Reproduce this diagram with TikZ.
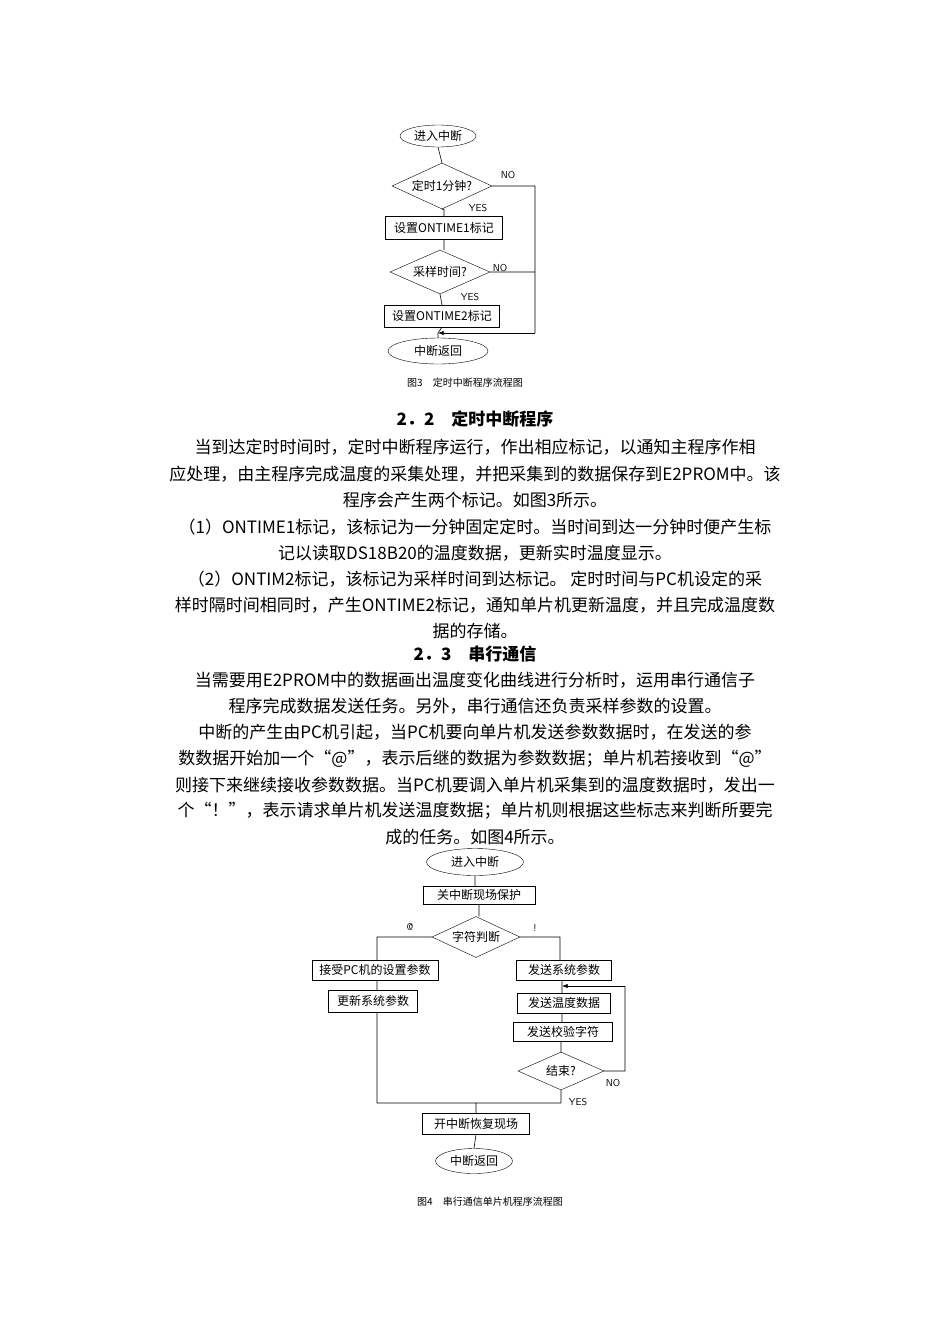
\documentclass[tikz,border=0pt]{standalone}
\usepackage{fontspec}
\setmainfont{Liberation Serif}
\newfontfamily\cjk{Noto Sans CJK SC}
\usetikzlibrary{arrows.meta,shapes.geometric,positioning}

\begin{document}
\begin{tikzpicture}[x=1pt,y=-1pt]
\tikzstyle{box} = [
	shape=rectangle,
	draw=black, %thin border
	inner sep=0pt,
	font=\cjk\fontsize{12}{14}\selectfont
];
\tikzstyle{decision} = [
	shape=diamond,
	draw=black,
	aspect=2.2,
	inner sep=0pt,
	font=\cjk\fontsize{12}{14}\selectfont
];
\tikzstyle{term} = [
	shape=ellipse,
	draw=black,
	inner sep=0pt,
	font=\cjk\fontsize{12}{14}\selectfont
];
\tikzstyle{lbl} = [font=\fontsize{10}{12}\selectfont\sffamily, inner sep=1pt];
\tikzstyle{txt} = [font=\cjk\fontsize{17}{20}\selectfont, inner sep=0pt];

\useasboundingbox (0,0) rectangle (950,1344);

%figure 3
\node[term, minimum width=76, minimum height=22](InA) at (438,136) {进入中断};
\node[decision, minimum width=100, minimum height=46](Min) at (442,186) {定时1分钟?};
\node[box, minimum width=117, minimum height=23](OnA) at (444,228) {设置ONTIME1标记};
\node[decision, minimum width=100, minimum height=44](Smp) at (440,272) {采样时间?};
\node[box, minimum width=115, minimum height=22](OnB) at (442,316) {设置ONTIME2标记};
\node[term, minimum width=100, minimum height=26](OutA) at (438,351) {中断返回};
\coordinate (JA) at (438,333);
\coordinate (RA) at (535,186);
\coordinate (RB) at (535,333);
\node[lbl] at (508,175) {NO};
\node[lbl] at (478,208) {YES};
\node[lbl] at (500,268) {NO};
\node[lbl] at (470,297) {YES};
\node[font=\cjk\fontsize{10}{12}\selectfont] at (465,383) {图3\quad 定时中断程序流程图};

\draw[line width=0.6pt]
	(InA.south) -- (Min.north)
	(Min.south) -- (OnA.north |- Min.south) -- (OnA.north)
	(OnA.south) -- (Smp.north -| OnA.south)
	(Smp.south) -- (OnB.north)
	(JA) -- (OutA.north)
	(Min.east) -- (RA) -- (RB)
	(Smp.east) -- (Smp.east -| RA)
;
\draw[line width=0.6pt, -{Latex[length=2mm,width=1.5mm]}] (RB) -- (JA);
\draw[line width=0.6pt] (OnB.south) -- (JA);

%text
\node[txt, font=\cjk\bfseries\fontsize{17}{20}\selectfont] (H1) at (475,419) {2．2\quad 定时中断程序};
\node[txt] (L1) at (475,447) {当到达定时时间时，定时中断程序运行，作出相应标记，以通知主程序作相};
\node[txt] (L2) at (475,474) {应处理，由主程序完成温度的采集处理，并把采集到的数据保存到E2PROM中。该};
\node[txt] (L3) at (475,500) {程序会产生两个标记。如图3所示。};
\node[txt] (L4) at (475,527) {（1）ONTIME1标记，该标记为一分钟固定定时。当时间到达一分钟时便产生标};
\node[txt] (L5) at (475,553) {记以读取DS18B20的温度数据，更新实时温度显示。};
\node[txt] (L6) at (475,579) {（2）ONTIM2标记，该标记为采样时间到达标记。 定时时间与PC机设定的采};
\node[txt] (L7) at (475,605) {样时隔时间相同时，产生ONTIME2标记，通知单片机更新温度，并且完成温度数};
\node[txt] (L8) at (475,631) {据的存储。};
\node[txt, font=\cjk\bfseries\fontsize{17}{20}\selectfont] (H2) at (475,654) {2．3\quad 串行通信};
\node[txt] (M1) at (475,680) {当需要用E2PROM中的数据画出温度变化曲线进行分析时，运用串行通信子};
\node[txt] (M2) at (475,706) {程序完成数据发送任务。另外，串行通信还负责采样参数的设置。};
\node[txt] (M3) at (475,732) {中断的产生由PC机引起，当PC机要向单片机发送参数数据时，在发送的参};
\node[txt] (M4) at (475,759) {数数据开始加一个“@”，表示后继的数据为参数数据；单片机若接收到“@”};
\node[txt] (M5) at (475,785) {则接下来继续接收参数数据。当PC机要调入单片机采集到的温度数据时，发出一};
\node[txt] (M6) at (475,811) {个“！”，表示请求单片机发送温度数据；单片机则根据这些标志来判断所要完};
\node[txt] (M7) at (475,837) {成的任务。如图4所示。};

%figure 4
\node[term, minimum width=97, minimum height=27](InB) at (475,862) {进入中断};
\node[box, minimum width=112, minimum height=18](Prot) at (479,895) {关中断现场保护};
\node[decision, minimum width=88, minimum height=41](Chr) at (476,937) {字符判断};
\node[box, minimum width=126, minimum height=20](Recv) at (375,970) {接受PC机的设置参数};
\node[box, minimum width=89, minimum height=22](Upd) at (373,1001) {更新系统参数};
\node[box, minimum width=95, minimum height=20](SSys) at (564,970) {发送系统参数};
\node[box, minimum width=93, minimum height=20](STmp) at (564,1003) {发送温度数据};
\node[box, minimum width=99, minimum height=19](SChk) at (563,1032) {发送校验字符};
\node[decision, minimum width=86, minimum height=38](End) at (561,1071) {结束?};
\node[box, minimum width=107, minimum height=21](Rest) at (476,1124) {开中断恢复现场};
\node[term, minimum width=77, minimum height=25](OutB) at (474,1161) {中断返回};
\coordinate (CL) at (377,937);
\coordinate (CR) at (560,937);
\coordinate (ML) at (377,1103);
\coordinate (MR) at (561,1103);
\coordinate (MC) at (476,1103);
\coordinate (LA) at (625,1071);
\coordinate (LB) at (625,986);
\coordinate (LC) at (562,986);
\node[lbl] at (410,927) {@};
\node[lbl] at (535,928) {!};
\node[lbl] at (613,1083) {NO};
\node[lbl] at (578,1102) {YES};
\node[font=\cjk\fontsize{10}{12}\selectfont] at (490,1202) {图4\quad 串行通信单片机程序流程图};

\draw[line width=0.6pt]
	(InB.south) -- (Prot.north -| InB.south)
	(Prot.south) -- (Chr.north -| Prot.south)
	(Chr.west) -- (CL) -- (Recv.north -| CL)
	(Recv.south -| CL) -- (Upd.north -| CL)
	(Upd.south -| CL) -- (ML) -- (MR)
	(Chr.east) -- (CR) -- (SSys.north -| CR)
	(SSys.south -| LC) -- (STmp.north -| LC)
	(STmp.south -| LC) -- (SChk.north -| LC)
	(SChk.south -| End.north) -- (End.north)
	(End.south) -- (MR)
	(MC) -- (Rest.north -| MC)
	(Rest.south) -- (OutB.north)
	(End.east) -- (LA) -- (LB)
;
\draw[line width=0.6pt, -{Latex[length=2mm,width=1.5mm]}] (LB) -- (LC);
\end{tikzpicture}
\end{document}
